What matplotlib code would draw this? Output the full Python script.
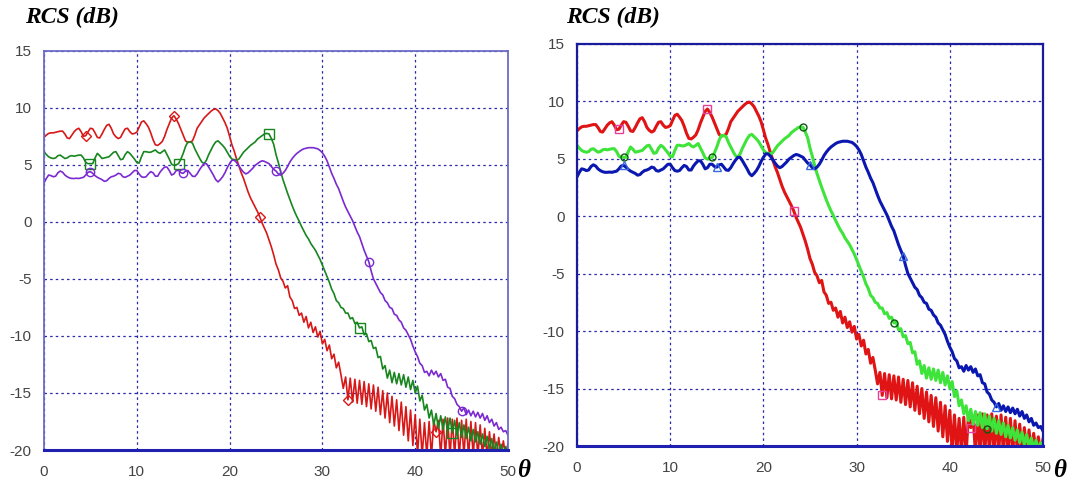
import numpy as np
import matplotlib.pyplot as plt

# incidence angle (deg), 0.25 deg step
theta = np.arange(0, 50.01, 0.25)

rcs_red = [
    7.4, 7.6, 7.75, 7.8, 7.8, 7.85, 7.9, 7.95, 7.95, 7.7, 7.35, 7.3, 7.6, 7.9, 8.1, 8.2, 7.9, 7.5, 7.55, 7.9,
    8.2, 8.15, 7.8, 7.4, 7.35, 7.7, 8.1, 8.45, 8.55, 8.2, 7.7, 7.45, 7.3, 7.4, 7.8, 8.15, 8.2, 7.9, 7.7, 7.75,
    7.85, 8.3, 8.75, 8.85, 8.6, 8.3, 7.8, 7.2, 6.75, 6.7, 6.85, 7.05, 7.5, 8.1, 8.6, 9.1, 9.3, 9.0, 8.6, 8.1,
    7.6, 7.1, 6.95, 7.0, 7.1, 7.6, 8.2, 8.5, 8.8, 9.1, 9.3, 9.5, 9.7, 9.85, 9.9, 9.75, 9.5, 9.1, 8.7, 8.2,
    7.5, 6.75, 6.2, 5.5, 4.9, 4.3, 3.8, 3.2, 2.6, 2.1, 1.7, 1.3, 0.9, 0.45, -0.1, -0.55, -1.0, -1.6, -2.2, -2.9,
    -3.7, -4.2, -4.9, -5.2, -5.8, -5.6, -6.6, -6.9, -7.6, -7.5, -8.2, -8.0, -8.8, -8.3, -9.3, -8.8, -9.7, -9.2, -10.1, -9.6,
    -10.7, -10.3, -11.3, -10.8, -12.0, -11.6, -12.8, -12.3, -13.4, -14.6, -13.6, -15.6, -13.7, -15.8, -13.8, -15.9, -13.9, -16.0, -14.0, -16.2,
    -14.2, -16.4, -14.3, -16.6, -14.5, -16.9, -14.8, -17.2, -15.0, -17.6, -15.3, -17.9, -15.6, -18.3, -15.8, -18.7, -16.2, -19.2, -16.5, -19.6,
    -16.9, -20.4, -17.3, -20.5, -17.6, -20.5, -17.5, -20.6, -17.4, -18.4, -17.4, -20.6, -17.3, -20.5, -17.2, -20.6, -17.3, -20.5, -17.2, -20.6,
    -17.4, -20.5, -17.3, -20.6, -17.5, -20.5, -17.6, -20.6, -17.8, -20.5, -18.1, -20.6, -18.4, -20.5, -18.6, -20.6, -18.9, -20.5, -19.2, -20.6,
    -19.4,
]

rcs_green = [
    6.15, 5.9, 5.7, 5.6, 5.55, 5.6, 5.8, 5.85, 5.7, 5.55, 5.6, 5.75, 5.8, 5.75, 5.8, 5.85, 5.85, 5.6, 5.2, 5.1,
    5.1, 5.1, 5.6, 6.0, 5.8, 5.55, 5.6, 5.65, 5.7, 5.9, 6.1, 6.15, 5.8, 5.45, 5.5, 5.9, 6.15, 6.0, 5.75, 5.5,
    5.2, 5.15, 5.7, 6.15, 6.15, 6.1, 6.1, 6.2, 6.3, 6.1, 6.0, 6.15, 6.3, 5.9, 5.5, 5.05, 4.95, 5.0, 5.1, 5.5,
    6.0, 6.6, 7.0, 7.0, 6.9, 6.4, 6.0, 5.6, 5.25, 5.1, 5.4, 5.9, 6.3, 6.7, 7.0, 7.1, 6.9, 6.7, 6.45, 6.1,
    5.75, 5.5, 5.45, 5.4, 5.5, 5.8, 6.1, 6.3, 6.5, 6.7, 6.85, 7.0, 7.25, 7.4, 7.55, 7.7, 7.75, 7.7, 7.3, 6.8,
    5.9, 5.2, 4.4, 3.7, 3.1, 2.5, 1.95, 1.4, 0.9, 0.45, 0.05, -0.4, -0.8, -1.2, -1.5, -1.9, -2.2, -2.5, -2.9, -3.3,
    -3.8, -4.3, -4.8, -5.3, -5.9, -6.3, -6.9, -7.1, -7.5, -7.6, -8.0, -8.0, -8.5, -8.4, -8.9, -8.8, -9.3, -9.2, -9.9, -9.8,
    -10.5, -10.4, -11.1, -11.0, -11.9, -11.8, -12.9, -12.6, -13.7, -13.0, -14.1, -13.2, -14.2, -13.3, -14.3, -13.4, -14.5, -13.6, -14.7, -13.9,
    -15.0, -14.4, -15.7, -15.2, -16.5, -16.0, -17.2, -16.5, -17.8, -16.8, -18.1, -17.0, -18.2, -17.1, -18.4, -17.2, -18.5, -17.4, -18.7, -17.6,
    -18.9, -17.8, -19.0, -18.0, -19.2, -18.2, -19.3, -18.4, -19.5, -18.6, -19.7, -18.8, -19.9, -19.0, -20.1, -19.3, -20.3, -19.5, -20.4, -19.7,
    -20.5,
]

rcs_purple = [
    3.4, 3.8, 4.1, 4.05, 3.95, 4.0, 4.3, 4.45, 4.35, 4.1, 3.95, 3.85, 3.8, 3.8, 3.82, 3.8, 3.85, 3.9, 4.1, 4.35,
    4.4, 4.25, 4.05, 3.9, 3.8, 3.7, 3.55, 3.6, 3.8, 3.95, 4.0, 4.1, 4.25, 4.2, 3.95, 3.9, 4.0, 4.1, 4.3, 4.5,
    4.5, 4.2, 3.95, 3.9, 3.95, 4.2, 4.4, 4.3, 4.0, 4.0, 4.35, 4.6, 4.8, 4.8, 4.5, 4.1, 4.2, 4.5, 4.5, 4.3,
    4.25, 4.45, 4.5, 4.25, 4.0, 3.97, 4.2, 4.55, 4.85, 5.1, 5.1, 4.8, 4.45, 4.1, 3.7, 3.5, 3.7, 3.95, 4.3, 4.75,
    5.1, 5.4, 5.4, 5.2, 4.9, 4.6, 4.35, 4.2, 4.3, 4.5, 4.7, 4.95, 5.1, 5.25, 5.35, 5.3, 5.2, 5.1, 4.85, 4.6,
    4.45, 4.2, 4.1, 4.25, 4.5, 4.85, 5.25, 5.55, 5.8, 6.0, 6.15, 6.3, 6.4, 6.45, 6.5, 6.5, 6.5, 6.45, 6.4, 6.25,
    6.05, 5.75, 5.35, 4.8, 4.25, 3.8, 3.3, 2.9, 2.35, 1.8, 1.3, 0.9, 0.5, 0.1, -0.4, -0.9, -1.3, -1.9, -2.5, -3.0,
    -3.5, -4.3, -5.0, -5.4, -5.8, -6.2, -6.4, -6.9, -7.1, -7.5, -7.6, -8.1, -8.2, -8.6, -8.8, -9.3, -9.5, -9.9, -10.3, -10.9,
    -11.4, -11.8, -12.4, -12.6, -13.2, -13.1, -13.5, -13.0, -13.4, -13.1, -13.6, -13.3, -13.9, -13.8, -14.5, -14.6, -15.3, -15.5, -16.0, -16.2,
    -16.6, -16.3, -16.9, -16.5, -17.0, -16.6, -17.1, -16.7, -17.2, -16.8, -17.4, -17.0, -17.6, -17.3, -17.9, -17.6, -18.2, -18.0, -18.4, -18.3,
    -18.7,
]

# angles where the symbols sit on each curve
marks_red = [4.5, 14.0, 23.25, 32.75, 42.25]
marks_green = [5.0, 14.5, 24.25, 34.0, 44.0]
marks_purple = [5.0, 15.0, 25.0, 35.0, 45.0]

xticks = [0, 10, 20, 30, 40, 50]
yticks = [15, 10, 5, 0, -5, -10, -15, -20]

W, H = 1076, 486


def mark_index(marks):
    return [int(round(m / 0.25)) for m in marks]


def style_axes(ax, frame_color, lw):
    ax.set_xlim(0, 50)
    ax.set_ylim(-20, 15)
    ax.set_xticks(xticks)
    ax.set_yticks(yticks)
    ax.set_xticklabels([str(t) for t in xticks])
    ax.set_yticklabels([str(t) for t in yticks])
    ax.grid(True, color='#2a2aa8', linestyle=(0, (2, 2.5)), linewidth=0.9)
    ax.tick_params(length=0, pad=11, labelsize=11, labelcolor='#444444')
    ax.tick_params(axis='y', pad=9)
    for lab in ax.get_xticklabels() + ax.get_yticklabels():
        lab.set_family(['Liberation Sans', 'DejaVu Sans'])
    for s in ax.spines.values():
        s.set_color(frame_color)
        s.set_linewidth(lw)
    ax.spines['bottom'].set_color('#1f1fb0')
    ax.spines['bottom'].set_linewidth(2.2)


def main():
    fig = plt.figure(figsize=(W / 100, H / 100), dpi=100)

    # left panel
    ax1 = fig.add_axes([44 / W, 1 - 450 / H, 464 / W, 399.3 / H])
    style_axes(ax1, '#6c6cc8', 1.3)
    ax1.plot(theta, rcs_red, color='#d81818', lw=1.2, marker='D', ms=5, mfc='none',
             markevery=mark_index(marks_red))
    ax1.plot(theta, rcs_green, color='#18861e', lw=1.2, marker='s', ms=7, mfc='none',
             markevery=mark_index(marks_green))
    ax1.plot(theta, rcs_purple, color='#7a2ad0', lw=1.2, marker='o', ms=6, mfc='none',
             markevery=mark_index(marks_purple))

    # right panel (same data, heavier strokes)
    ax2 = fig.add_axes([577 / W, 1 - 446 / H, 466 / W, 402.5 / H])
    style_axes(ax2, '#1a1a9c', 1.6)
    ax2.plot(theta, rcs_red, color='#e01414', lw=2.2, marker='s', ms=6,
             mfc='none', mec='#e8409a', markevery=mark_index(marks_red))
    ax2.plot(theta, rcs_green, color='#3ee43a', lw=2.2, marker='o', ms=5,
             mfc='none', mec='#0b5a10', markevery=mark_index(marks_green))
    ax2.plot(theta, rcs_purple, color='#0a18b0', lw=2.2, marker='^', ms=6,
             mfc='none', mec='#3a6ae0', markevery=mark_index(marks_purple))

    title_font = dict(family=['Liberation Serif', 'DejaVu Serif'], weight='bold', style='italic')
    fig.text(25 / W, 1 - 17 / H, 'RCS (dB)', fontsize=17, va='center', ha='left', **title_font)
    fig.text(566 / W, 1 - 17 / H, 'RCS (dB)', fontsize=17, va='center', ha='left', **title_font)
    fig.text(517 / W, 1 - 470 / H, 'θ', fontsize=18, va='center', ha='left', **title_font)
    fig.text(1053 / W, 1 - 470 / H, 'θ', fontsize=18, va='center', ha='left', **title_font)

    fig.savefig('out.png', dpi=100, facecolor='white')


if __name__ == "__main__":
    main()
